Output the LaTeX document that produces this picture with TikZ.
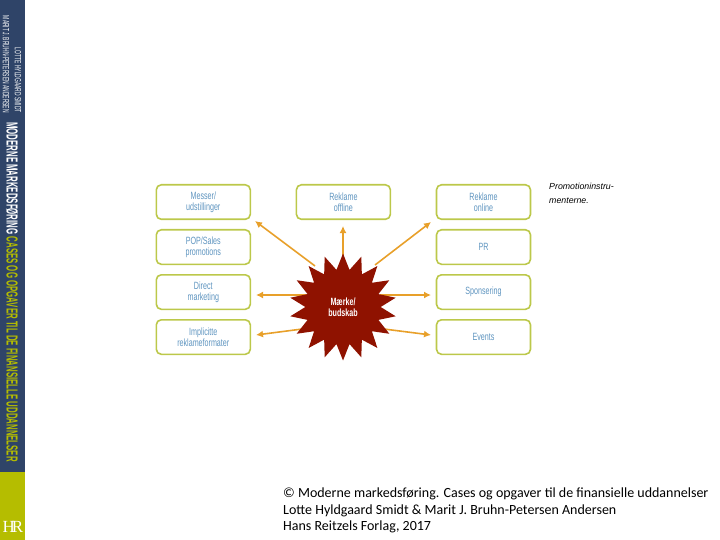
\documentclass[tikz,border=0pt]{standalone}
\usepackage{fontspec}
\setmainfont{Carlito}
\newfontfamily\boxfont[FakeStretch=0.68]{Liberation Sans}
\newfontfamily\spinefont[FakeStretch=0.49]{Liberation Sans}
\newfontfamily\smallspinefont[FakeStretch=0.55]{Liberation Sans}
\newfontfamily\notefont{Liberation Sans}
\newfontfamily\logofont{Liberation Serif}
\usetikzlibrary{arrows.meta,positioning,shapes.geometric}
\definecolor{SpineNavy}{HTML}{2F4468}
\definecolor{SpineLime}{HTML}{B5BD00}
\definecolor{BoxGreen}{HTML}{BCC84A}
\definecolor{BoxText}{HTML}{5F95C0}
\definecolor{ArrowOrange}{HTML}{E8A02A}
\definecolor{StarRed}{HTML}{8F1200}

\begin{document}
\begin{tikzpicture}[
        x=1pt, y=-1pt,
        node distance=8.9pt and 44.5pt,
        box/.style={
          draw=BoxGreen,
          fill=white,
          line width=1.6pt,
          rounded corners=5pt,
          align=center,
          inner sep=2pt,
          text=BoxText,
          font=\boxfont\fontsize{10.5}{11.5}\selectfont,
          minimum width=94pt,
          minimum height=34.5pt
        },
        arrow/.style={-{Latex[length=7pt,width=7pt]}, line width=1.6pt, draw=ArrowOrange},
        spine/.style={rotate=-90, inner sep=0pt, font=\spinefont\bfseries\fontsize{16}{16}\selectfont},
        smallspine/.style={spine, anchor=east, text=white, font=\smallspinefont\fontsize{9}{9}\selectfont}
      ]
        \useasboundingbox (0,0) rectangle (720,540);
        \fill[SpineNavy] (0,0) rectangle (25,472);
        \fill[SpineLime] (0,472) rectangle (25,540);

        \node[smallspine] (lotte) at (18,113) {LOTTE HYLDGAARD SMIDT};
        \node[smallspine] (marit) at (6,113) {MARIT J. BRUHN-PETERSEN ANDERSEN};
        \node[spine, anchor=west, text=white] (title) at (12,122) {MODERNE MARKEDSFØRING \textcolor{SpineLime}{CASES OG OPGAVER TIL DE FINANSIELLE UDDANNELSER}};
        \node[text=white, inner sep=0pt, font=\logofont\fontsize{17}{17}\selectfont] (logo) at (13,527) {H\kern-3pt R};

        \node[box, anchor=north west] (messer) at (155.5,184) {Messer/\\udstillinger};
        \node[box, below=of messer] (pop) {POP/Sales\\promotions};
        \node[box, below=of pop] (direct) {Direct\\marketing};
        \node[box, below=of direct] (implicit) {Implicitte\\reklameformater};
        \node[box, right=of messer] (offline) {Reklame\\offline};
        \node[box, right=of offline] (online) {Reklame\\online};
        \node[box, below=of online] (pr) {PR};
        \node[box, below=of pr] (sponsor) {Sponsering};
        \node[box, below=of sponsor] (events) {Events};

        \coordinate (markc) at (343,307);
        \coordinate (tipmesser) at (255,221);
        \coordinate (tipoffline) at (343,226);
        \coordinate (tiponline) at (431,222);
        \coordinate (tipdirect) at (256,295);
        \coordinate (tipimplicit) at (256,335);
        \coordinate (tipsponsor) at (431,295);
        \coordinate (tipevents) at (431,335);
        \coordinate (tailmesser) at (315,266);
        \coordinate (tailonline) at (375,265);
        \coordinate (taildirect) at (310,295);
        \coordinate (tailimplicit) at (310,328);
        \coordinate (tailsponsor) at (380,295);
        \coordinate (tailevents) at (376,328);

        \draw[arrow] (tailmesser) -- (tipmesser);
        \draw[arrow] (markc) -- (tipoffline);
        \draw[arrow] (tailonline) -- (tiponline);
        \draw[arrow] (taildirect) -- (tipdirect);
        \draw[arrow] (tailimplicit) -- (tipimplicit);
        \draw[arrow] (tailsponsor) -- (tipsponsor);
        \draw[arrow] (tailevents) -- (tipevents);

        \node[star, star points=18, star point ratio=1.42, fill=StarRed, minimum size=107pt, inner sep=0pt, align=center, text=white,
          font=\boxfont\bfseries\fontsize{10.5}{11.5}\selectfont] (mark) at (markc) {Mærke/\\budskab};

        \node[anchor=north west, inner sep=0pt, align=left, font=\notefont\itshape\fontsize{8.8}{14}\selectfont] (note) at (549,182.5) {Promotioninstru-\\menterne.};
        \node[anchor=north west, inner sep=0pt, align=left, font=\fontsize{14}{16.5}\selectfont] (credit) at (283,488) {© Moderne markedsføring. Cases og opgaver til de finansielle uddannelser\\Lotte Hyldgaard Smidt \& Marit J. Bruhn-Petersen Andersen\\Hans Reitzels Forlag, 2017};
      \end{tikzpicture}
\end{document}
